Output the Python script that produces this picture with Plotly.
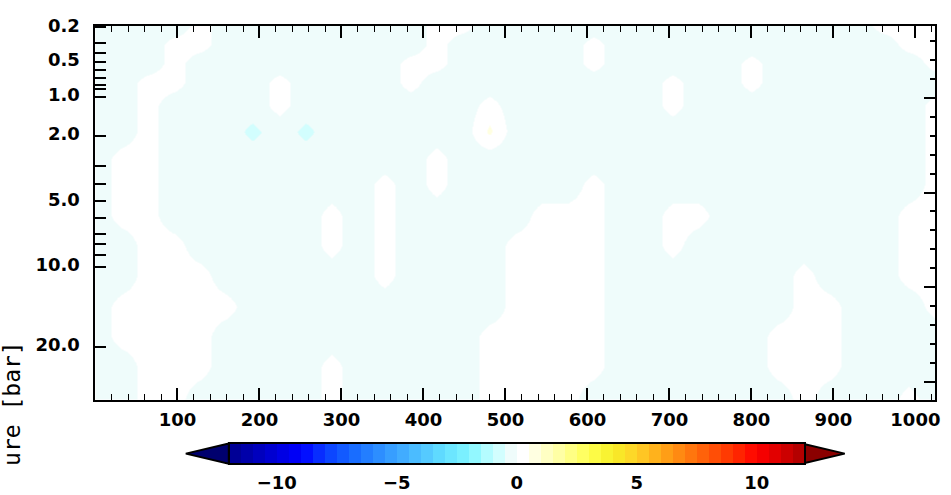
import numpy as np
import plotly.graph_objects as go

# ---------------------------------------------------------------- data
# along-track index of the grid columns
x_index = list(range(0, 1025, 32))

# altitude of the grid rows (km relative to the 1-bar level), top to bottom
z_levels = [38.1, 28, 18, 8, -4, -18, -32, -46, -62, -78, -94, -110, -126, -142, -159.3]

# anomaly field (same units as the colour bar)
C = -0.3   # weak negative
W = 0.2    # weak positive
S = -0.6   # stronger negative spot
Y = 0.6    # stronger positive spot
anomaly_rows = [
    [C, C, C, C, W, C, C, C, C, C, C, C, C, W, W, C, C, C, C, C, C, C, C, C, C, C, C, C, C, C, W, W, W],
    [C, C, C, W, W, C, C, C, C, C, C, C, C, W, C, C, C, C, C, W, C, C, C, C, C, C, C, C, C, C, C, W, W],
    [C, C, C, W, C, C, C, C, C, C, C, C, W, W, C, C, C, C, C, W, C, C, C, C, C, W, C, C, C, C, C, C, W],
    [C, C, W, W, C, C, C, W, C, C, C, C, W, C, C, C, C, C, C, C, C, C, W, C, C, W, C, C, C, C, C, C, C],
    [C, C, W, C, C, C, C, W, C, C, C, C, C, C, C, W, C, C, C, C, C, C, W, C, C, C, C, C, C, C, C, C, W],
    [C, C, W, C, C, C, S, C, S, C, C, C, C, C, C, Y, C, C, C, C, C, C, C, C, C, C, C, C, C, C, C, C, W],
    [C, W, W, C, C, C, C, C, C, C, C, C, C, W, C, C, C, C, C, C, C, C, C, C, C, C, C, C, C, C, C, C, W],
    [C, W, W, C, C, C, C, C, C, C, C, W, C, W, C, C, C, C, C, W, C, C, C, C, C, C, C, C, C, C, C, C, W],
    [C, W, W, C, C, C, C, C, C, W, C, W, C, C, C, C, C, W, W, W, C, C, W, W, C, C, C, C, C, C, C, W, W],
    [C, C, W, W, C, C, C, C, C, W, C, W, C, C, C, C, W, W, W, W, C, C, W, C, C, C, C, C, C, C, C, W, W],
    [C, C, W, W, W, C, C, C, C, C, C, W, C, C, C, C, W, W, W, W, C, C, C, C, C, C, C, W, C, C, C, W, W],
    [C, W, W, W, W, W, C, C, C, C, C, C, C, C, C, C, W, W, W, W, C, C, C, C, C, C, C, W, W, C, C, C, W],
    [C, W, W, W, W, C, C, C, C, C, C, C, C, C, C, W, W, W, W, W, C, C, C, C, C, C, W, W, W, C, C, C, C],
    [C, C, W, W, W, C, C, C, C, W, C, C, C, C, C, W, W, W, W, W, C, C, C, C, C, C, W, W, W, C, C, C, C],
    [C, C, W, W, C, C, C, C, C, W, C, C, C, C, C, W, W, W, W, C, C, C, C, C, C, C, C, W, C, C, C, W, C],
]

# pressure labels of the left axis and the altitude of each
pressure_tick_alt = [37.2, 28.7, 23.6, 19.0, 14.5, 10.3, 6.6, 4.5, 0.5,
                     -20.0, -35.9, -45.6, -54.7, -63.6, -71.8, -77.3, -82.8, -89.2, -131.5]
pressure_tick_text = ["0.2", "", "", "0.5", "", "", "", "", "1.0",
                      "2.0", "", "", "5.0", "", "", "", "", "10.0", "20.0"]

x_tick_vals = [100, 200, 300, 400, 500, 600, 700, 800, 900, 1000]

# colour bar: value anchors and their colours, drawn in 0.5-wide steps
cb_anchor_vals = [-12, -10.5, -9, -8, -7, -6, -5, -4, -3, -2, -1, -0.25,
                  0.25, 1, 2, 3, 4, 5, 6, 7, 8, 9, 10, 11, 12]
cb_anchor_cols = ["#00008c", "#0000c8", "#0000ff", "#0a3cff", "#1464ff", "#2887ff",
                  "#3ca5ff", "#50c3ff", "#64e1ff", "#82f5ff", "#c4ffff", "#effcfb",
                  "#ffffff", "#ffffd2", "#ffff96", "#ffff50", "#f7ef28", "#ffd028",
                  "#ffa818", "#ff8010", "#ff5808", "#ff3000", "#ff0000", "#d80000", "#a80000"]
cb_under_col = "#00006e"
cb_over_col = "#8b0000"
cb_tick_vals = [-10, -5, 0, 5, 10]
CB_MIN, CB_MAX, CB_STEP = -12.0, 12.0, 0.5
CB_EXT = 13.8   # tip value of the over/under triangles

# visible part of the vertical axis title
y_title = "ure [bar]"

# ---------------------------------------------------------------- geometry (px)
FIG_W, FIG_H = 951, 495
PL, PR, PT, PB = 96, 940, 15, 400          # plot frame
CBX0, CBX1, CBT, CBB = 230, 806, 445, 466  # colour bar rectangle
X_RANGE = [0, 1024]
Z_RANGE = [-159.3, 38.1]


def px_x(p):
    return p / FIG_W


def px_y(p):
    return 1 - p / FIG_H


def hex_rgb(h):
    h = h.lstrip("#")
    return np.array([int(h[i:i + 2], 16) for i in (0, 2, 4)], dtype=float)


anchor_rgb = np.array([hex_rgb(c) for c in cb_anchor_cols])
n_bands = int(round((CB_MAX - CB_MIN) / CB_STEP))
colorscale = []
for i in range(n_bands):
    centre = CB_MIN + (i + 0.5) * CB_STEP
    rgb = [np.interp(centre, cb_anchor_vals, anchor_rgb[:, k]) for k in range(3)]
    col = "rgb(%d,%d,%d)" % tuple(int(round(v)) for v in rgb)
    colorscale.append([i / n_bands, col])
    colorscale.append([(i + 1) / n_bands, col])

tick_font = dict(family="DejaVu Sans", size=18, color="black", weight="bold")

fig = go.Figure()

fig.add_trace(go.Heatmap(
    x=x_index,
    y=z_levels[::-1],
    z=anomaly_rows[::-1],
    zmin=CB_MIN, zmax=CB_MAX,
    zsmooth="best",
    colorscale=colorscale,
    hoverinfo="skip",
    colorbar=dict(
        orientation="h",
        lenmode="pixels", len=CBX1 - CBX0,
        thicknessmode="pixels", thickness=CBB - CBT,
        x=px_x(CBX0), xanchor="left",
        y=px_y(CBT), yanchor="top",
        xpad=0, ypad=0,
        outlinecolor="black", outlinewidth=2,
        tickmode="array", tickvals=cb_tick_vals,
        ticktext=["\u221210", "\u22125", "0", "5", "10"],
        ticks="outside", ticklen=3, tickcolor="rgba(0,0,0,0)",
        tickfont=tick_font,
    ),
))

# overlay pair for the top and right frame axes
fig.add_trace(go.Scatter(x=[None], y=[None], xaxis="x2", yaxis="y2",
                         showlegend=False, hoverinfo="skip"))

frame = dict(showline=True, linecolor="black", linewidth=2,
             showgrid=False, zeroline=False)

fig.update_layout(
    width=FIG_W, height=FIG_H,
    margin=dict(l=0, r=0, t=0, b=0),
    paper_bgcolor="white", plot_bgcolor="white",
    showlegend=False,
    xaxis=dict(
        domain=[px_x(PL), px_x(PR)], range=X_RANGE, anchor="y",
        tickmode="array", tickvals=x_tick_vals,
        ticks="inside", ticklen=12, tickwidth=1.6, tickcolor="black",
        minor=dict(tickmode="linear", tick0=0, dtick=20, ticks="inside",
                   ticklen=6, tickwidth=1.2, tickcolor="black"),
        tickfont=tick_font, ticklabelstandoff=3, **frame,
    ),
    xaxis2=dict(
        domain=[px_x(PL), px_x(PR)], range=X_RANGE, overlaying="x", side="top",
        anchor="y",
        tickmode="array", tickvals=x_tick_vals, showticklabels=False,
        ticks="inside", ticklen=12, tickwidth=1.6, tickcolor="black",
        minor=dict(tickmode="linear", tick0=0, dtick=20, ticks="inside",
                   ticklen=6, tickwidth=1.2, tickcolor="black"),
        **frame,
    ),
    yaxis=dict(
        domain=[px_y(PB), px_y(PT)], range=Z_RANGE, anchor="x",
        tickmode="array", tickvals=pressure_tick_alt, ticktext=pressure_tick_text,
        ticks="inside", ticklen=11, tickwidth=2, tickcolor="black",
        tickfont=tick_font, ticklabelstandoff=10, ticklabelshift=-2, **frame,
    ),
    yaxis2=dict(
        domain=[px_y(PB), px_y(PT)], range=Z_RANGE, overlaying="y", side="right",
        anchor="x",
        tickmode="linear", tick0=0, dtick=50, showticklabels=False,
        ticks="inside", ticklen=11, tickwidth=2, tickcolor="black",
        minor=dict(tickmode="linear", tick0=0, dtick=10, ticks="inside",
                   ticklen=5, tickwidth=1.5, tickcolor="black"),
        **frame,
    ),
)

# over/under triangles on both ends of the colour bar
cb_scale = (CBX1 - CBX0) / (CB_MAX - CB_MIN)
tip_lo = CBX0 + (-CB_EXT - CB_MIN) * cb_scale
tip_hi = CBX0 + (CB_EXT - CB_MIN) * cb_scale
mid = (CBT + CBB) / 2
for base, tip, col in [(CBX0, tip_lo, cb_under_col), (CBX1, tip_hi, cb_over_col)]:
    fig.add_shape(
        type="path", xref="paper", yref="paper",
        path="M %f %f L %f %f L %f %f Z" % (px_x(base), px_y(CBT), px_x(tip), px_y(mid),
                                            px_x(base), px_y(CBB)),
        fillcolor=col, line=dict(color="black", width=2),
    )

fig.add_annotation(
    text=y_title, xref="paper", yref="paper",
    x=px_x(12), y=px_y(337), xanchor="center", yanchor="top",
    textangle=-90, showarrow=False,
    font=dict(family="DejaVu Sans Mono", size=23, color="black"),
)

fig.write_html("out.html")
